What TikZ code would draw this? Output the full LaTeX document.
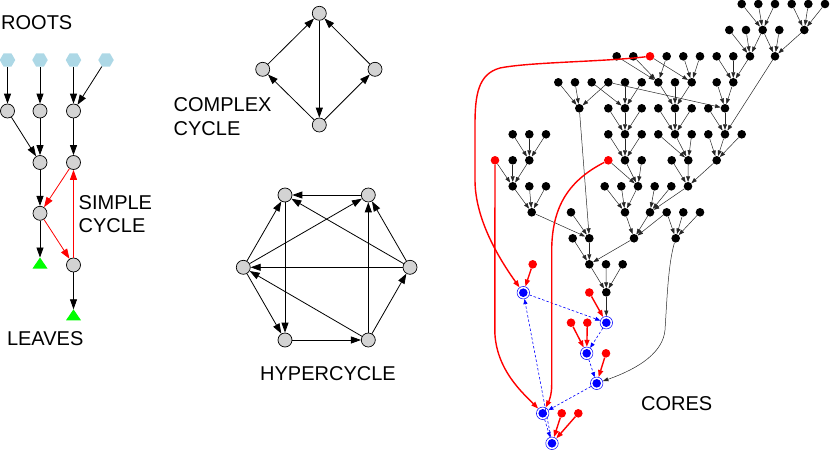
\documentclass[tikz,border=0pt]{standalone}
\usepackage{fontspec}
\setmainfont{Liberation Sans}
\usetikzlibrary{arrows.meta,shapes.geometric}
\definecolor{nodegray}{HTML}{D3D3D3}
\definecolor{hexblue}{HTML}{ADD8E6}
\begin{document}
\begin{tikzpicture}[x=1pt,y=-1pt,
  gn/.style={circle,draw=black,line width=0.7pt,fill=nodegray,minimum size=14pt,inner sep=0pt},
  hexn/.style={regular polygon,regular polygon sides=6,fill=hexblue,minimum size=15.5pt,inner sep=0pt},
  ge/.style={draw=black,line width=0.8pt,-{Triangle[length=10pt,width=7pt]}},
  gre/.style={draw=red,line width=0.8pt,-{Triangle[length=10pt,width=7pt]}},
  tn/.style={circle,fill=black,minimum size=8.6pt,inner sep=0pt},
  rn/.style={circle,fill=red,minimum size=8.6pt,inner sep=0pt},
  bn/.style={circle,draw=blue,line width=0.5pt,minimum size=12.5pt,inner sep=0pt,
    path picture={\fill[blue] (path picture bounding box.center) circle (4.3pt);}},
  te/.style={draw=black!85,line width=0.5pt,-{Triangle[length=5.5pt,width=4pt]}},
  re/.style={draw=red,line width=1.4pt,-{Triangle[length=7pt,width=5pt]}},
  be/.style={draw=blue,line width=0.6pt,dash pattern=on 2.5pt off 2pt,-{Triangle[length=5pt,width=4pt]}},
  lab/.style={font=\fontsize{20}{24}\selectfont,inner sep=0pt,anchor=base west}
]
\useasboundingbox (0,0) rectangle (830,450);

% ---------- left graph ----------
\node[hexn] (h1) at (7.5,60) {};
\node[hexn] (h2) at (40,60) {};
\node[hexn] (h3) at (73.5,60) {};
\node[hexn] (h4) at (106,60) {};
\node[gn] (n1) at (7.5,111) {};
\node[gn] (n2) at (40,111) {};
\node[gn] (n3) at (73.5,111) {};
\node[gn] (n4) at (40,162.5) {};
\node[gn] (n5) at (73.5,162.5) {};
\node[gn] (n6) at (40,213.3) {};
\node[gn] (n7) at (73.5,265) {};
\coordinate (t1) at (40,257.5);
\coordinate (t2) at (73.5,309.3);
\fill[green] (t1) -- ++(7.5,11) -- ++(-15,0) -- cycle;
\fill[green] (t2) -- ++(7.5,11) -- ++(-15,0) -- cycle;
\foreach \s/\t in {h1/n1,h2/n2,h3/n3,h4/n3,n1/n4,n2/n4,n3/n5,n4/n6,n6/t1,n7/t2}
  \draw[ge] (\s) -- (\t);
\foreach \s/\t in {n5/n6,n6/n7,n7/n5}
  \draw[gre] (\s) -- (\t);
\node[lab] (lroots) at (1,29.3) {ROOTS};
\node[lab] (lleaves) at (6.8,345) {LEAVES};
\node[lab] (lsimple1) at (78.5,209) {SIMPLE};
\node[lab] (lsimple2) at (78.5,232) {CYCLE};

% ---------- complex cycle ----------
\node[gn] (cT) at (319.3,13.3) {};
\node[gn] (cL) at (262.7,69.3) {};
\node[gn] (cR) at (375,69.3) {};
\node[gn] (cB) at (319.3,125) {};
\foreach \s/\t in {cL/cT,cB/cL,cB/cR,cR/cT,cT/cB}
  \draw[ge] (\s) -- (\t);
\node[lab] (lcx1) at (173.5,111.7) {COMPLEX};
\node[lab] (lcx2) at (173.5,135) {CYCLE};

% ---------- hypercycle ----------
\node[gn] (yT) at (285,195) {};
\node[gn] (yTR) at (368.3,195) {};
\node[gn] (yL) at (243.3,267.3) {};
\node[gn] (yR) at (410,267.3) {};
\node[gn] (yBL) at (285,340) {};
\node[gn] (yBR) at (368.3,340) {};
\foreach \s/\t in {yTR/yT,yL/yT,yR/yT,yT/yBL,yL/yTR,yR/yTR,yBR/yTR,yR/yL,yBR/yL,yL/yBL,yBL/yBR,yBR/yR}
  \draw[ge] (\s) -- (\t);
\node[lab] (lhyper) at (260,380) {HYPERCYCLE};

% ---------- tree ----------
% row 0
\node[tn] (a1) at (741.7,4) {};
\node[tn] (a2) at (758.3,4) {};
\node[tn] (a3) at (775,4) {};
\node[tn] (a4) at (791.7,4) {};
\node[tn] (a5) at (808.3,4) {};
\node[tn] (a6) at (825,4) {};
% row 1
\node[tn] (b1) at (729.3,30) {};
\node[tn] (b2) at (746,30) {};
\node[tn] (b3) at (762.7,30) {};
\node[tn] (b4) at (779.3,30) {};
\node[tn] (b5) at (804.3,30) {};
% row 2
\node[tn] (c1) at (616.7,56.3) {};
\node[tn] (c2) at (633.3,56.3) {};
\node[rn] (c3) at (650,56.3) {};
\node[tn] (c4) at (666.7,56.3) {};
\node[tn] (c5) at (683.3,56.3) {};
\node[tn] (c6) at (700,56.3) {};
\node[tn] (c7) at (716.7,56.3) {};
\node[tn] (c8) at (733.3,56.3) {};
\node[tn] (c9) at (750,56.3) {};
\node[tn] (c10) at (775,56.3) {};
% row 3
\node[tn] (d1) at (558.3,82.3) {};
\node[tn] (d2) at (575,82.3) {};
\node[tn] (d3) at (591.7,82.3) {};
\node[tn] (d4) at (608.3,82.3) {};
\node[tn] (d5) at (625,82.3) {};
\node[tn] (d6) at (641.7,82.3) {};
\node[tn] (d7) at (658.3,82.3) {};
\node[tn] (d8) at (675,82.3) {};
\node[tn] (d9) at (691.7,82.3) {};
\node[tn] (d10) at (716.7,82.3) {};
\node[tn] (d11) at (733.3,82.3) {};
% row 4
\node[tn] (e1) at (579.3,108.3) {};
\node[tn] (e2) at (608.3,108.3) {};
\node[tn] (e3) at (625,108.3) {};
\node[tn] (e4) at (641.7,108.3) {};
\node[tn] (e5) at (658.3,108.3) {};
\node[tn] (e6) at (675,108.3) {};
\node[tn] (e7) at (691.7,108.3) {};
\node[tn] (e8) at (708.3,108.3) {};
\node[tn] (e9) at (725,108.3) {};
% row 5
\node[tn] (f1) at (512.7,134.3) {};
\node[tn] (f2) at (529.3,134.3) {};
\node[tn] (f3) at (546,134.3) {};
\node[tn] (f4) at (608.3,134.3) {};
\node[tn] (f5) at (625,134.3) {};
\node[tn] (f6) at (641.7,134.3) {};
\node[tn] (f7) at (658.3,134.3) {};
\node[tn] (f8) at (675,134.3) {};
\node[tn] (f9) at (691.7,134.3) {};
\node[tn] (f10) at (708.3,134.3) {};
\node[tn] (f11) at (725,134.3) {};
\node[tn] (f12) at (741.7,134.3) {};
% row 6
\node[rn] (g1) at (495,160.3) {};
\node[tn] (g2) at (512.7,160.3) {};
\node[tn] (g3) at (529.3,160.3) {};
\node[rn] (g4) at (608.3,160.3) {};
\node[tn] (g5) at (625,160.3) {};
\node[tn] (g6) at (641.7,160.3) {};
\node[tn] (g7) at (671.7,160.3) {};
\node[tn] (g8) at (688.3,160.3) {};
\node[tn] (g9) at (716.7,160.3) {};
% row 7
\node[tn] (hh1) at (512.7,186.3) {};
\node[tn] (hh2) at (529.3,186.3) {};
\node[tn] (hh3) at (546,186.3) {};
\node[tn] (hh4) at (604.7,186.3) {};
\node[tn] (hh5) at (621.3,186.3) {};
\node[tn] (hh6) at (638,186.3) {};
\node[tn] (hh7) at (654.7,186.3) {};
\node[tn] (hh8) at (671.3,186.3) {};
\node[tn] (hh9) at (688,186.3) {};
% row 8
\node[tn] (i1) at (531.7,212.3) {};
\node[tn] (i2) at (571,212.3) {};
\node[tn] (i3) at (625,212.3) {};
\node[tn] (i4) at (650,212.3) {};
\node[tn] (i5) at (666.7,212.3) {};
\node[tn] (i6) at (683.3,212.3) {};
\node[tn] (i7) at (700,212.3) {};
% row 9
\node[tn] (j1) at (572.7,238.3) {};
\node[tn] (j2) at (589.3,238.3) {};
\node[tn] (j3) at (634,238.3) {};
\node[tn] (j4) at (675.7,238.3) {};
% row 10
\node[tn] (k1) at (589.3,264.3) {};
\node[tn] (k2) at (606,264.3) {};
\node[tn] (k3) at (622.7,264.3) {};
% row 11
\node[tn] (l1) at (606.3,292.3) {};

\foreach \s/\t in {a1/b3,a2/b3,a3/b3,a4/b5,a5/b5,a6/b5,
  b1/c9,b2/c9,b3/c9,b3/c10,b4/c10,b5/c10,
  c1/d7,c2/d7,c4/d7,c3/d9,c5/d9,c6/d9,c7/d11,c8/d11,c9/d11,
  d1/e1,d2/e1,d4/e1,d3/e3,d5/e3,d6/e3,d7/e6,d8/e6,d9/e6,d4/e9,d10/e9,d11/e9,
  e2/f5,e3/f5,e4/f5,e5/f8,e6/f8,e7/f8,e8/f11,e9/f11,c10/f11,
  f1/g3,f2/g3,f3/g3,f4/g5,f5/g5,f6/g5,f7/g8,f8/g8,f9/g8,f10/g9,f11/g9,f12/g9,
  g1/hh1,g2/hh1,g3/hh1,g4/hh6,g5/hh6,g6/hh6,g7/hh9,g8/hh9,g9/hh9,
  hh1/i1,hh2/i1,hh3/i1,hh4/i3,hh5/i3,hh6/i3,hh7/i4,hh8/i4,hh9/i4,
  i1/j2,i2/j2,e1/j2,i3/j3,i4/j3,i5/j3,i5/j4,i6/j4,i7/j4,
  j1/k1,j2/k1,j3/k1,k1/l1,k2/l1,k3/l1}
  \draw[te] (\s) -- (\t);

% ---------- cores ----------
\node[bn] (B1) at (523.3,292.7) {};
\node[bn] (B2) at (606.3,322.7) {};
\node[bn] (B3) at (586.7,353.3) {};
\node[bn] (B4) at (596.7,383.3) {};
\node[bn] (B5) at (542.7,413.3) {};
\node[bn] (B6) at (552,443.3) {};
\node[rn] (R1) at (532.7,264.3) {};
\node[rn] (R2) at (589.3,292.5) {};
\node[rn] (R3) at (571,322.7) {};
\node[rn] (R4) at (587.3,322.7) {};
\node[rn] (R5) at (606,353.3) {};
\node[rn] (R6) at (561.7,413.3) {};
\node[rn] (R7) at (578.3,413.3) {};

\foreach \s/\t in {R1/B1,R2/B2,R3/B3,R4/B3,R5/B4,R6/B6,R7/B6}
  \draw[re] (\s) -- (\t);
\draw[te] (l1) -- (B2);
\draw[te] (j4) .. controls (668,265) and (667,300) .. (665,330)
  .. controls (663,352) and (640,368) .. (B4);
\foreach \s/\t in {B1/B2,B2/B3,B3/B4,B4/B5,B5/B6,B6/B1}
  \draw[be] (\s) -- (\t);

\draw[re] (c3) .. controls (600,62) and (530,62) .. (500,68)
  .. controls (478,74) and (475,95) .. (475,125) -- (475,180)
  .. controls (475,220) and (500,260) .. (B1);
\draw[re] (g1) -- (494.8,330) .. controls (495,370) and (525,395) .. (B5);
\draw[re] (g4) .. controls (570,180) and (552,205) .. (551.7,250) -- (551.7,385)
  .. controls (551.7,395) and (549,401) .. (B5);

\node[lab] (lcores) at (641,410) {CORES};
\end{tikzpicture}
\end{document}
